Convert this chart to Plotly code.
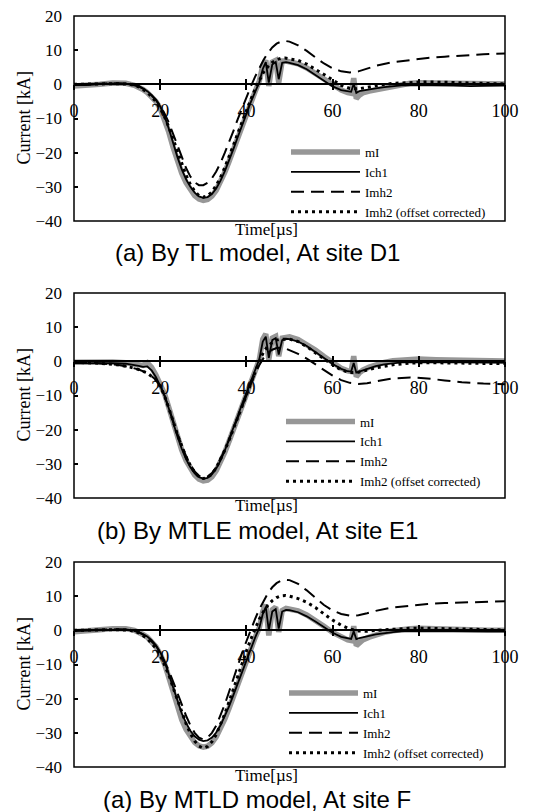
import plotly.graph_objects as go

# ---------------- data ----------------
T_MAIN = [0, 3, 6, 9, 12, 14, 15, 16, 17, 18, 19, 20, 21, 22, 23, 24, 25, 26, 27, 28, 29, 30,
          31, 32, 33, 34, 35, 36, 37, 38, 39, 40, 41, 42, 43, 43.8, 44.5, 45.2, 46, 46.8, 47.5,
          48.3, 49.2, 50, 52, 54, 56, 58, 60, 62, 63.5, 64.3, 64.9, 65.5, 66.2, 67, 68.5, 70,
          72, 74, 76, 78, 80, 84, 88, 92, 96, 100]

T_SMOOTH = [0, 5, 10, 13, 15, 17, 19, 20, 21, 22, 23, 24, 25, 26, 27, 28, 29, 30, 31, 32, 33,
            34, 35, 36, 37, 38, 39, 40, 41, 42, 43, 44, 45, 46, 47, 48, 49, 50, 52, 54, 56, 58,
            60, 62, 64, 66, 68, 70, 74, 78, 82, 86, 90, 95, 100]

# Panel 1: TL model, site D1
p1_mI = [-0.5, -0.4, 0.0, 0.4, 0.3, -0.3, -0.8, -1.5, -2.4, -3.5, -5.0, -7.0, -10.0, -14.0, -18.5,
         -22.5, -26.0, -28.8, -31.0, -32.6, -33.6, -34.0, -33.7, -32.7, -31.0, -28.6, -25.7, -22.5,
         -19.0, -15.4, -11.8, -8.4, -5.2, -2.2, 1.0, 5.5, 7.0, -0.5, 6.5, 7.0, 0.5, 6.8, 6.8, 6.6,
         6.0, 4.8, 3.2, 1.4, -0.3, -1.7, -2.4, -2.6, 1.8, -4.2, -3.2, -2.5, -2.0, -1.6, -1.1, -0.6,
         -0.1, 0.3, 0.5, 0.4, 0.1, -0.1, 0.0, 0.1]
p1_Ich1 = [-0.2, -0.2, 0.1, 0.3, 0.2, -0.2, -0.6, -1.2, -2.0, -3.1, -4.6, -6.5, -9.3, -13.0, -17.3,
           -21.3, -24.9, -27.8, -30.0, -31.7, -32.8, -33.2, -33.0, -32.1, -30.5, -28.2, -25.4, -22.3,
           -18.9, -15.4, -11.9, -8.5, -5.3, -2.3, 0.6, 4.5, 6.5, 0.5, 5.8, 6.5, 1.5, 6.3, 6.5, 6.3,
           5.6, 4.4, 2.8, 1.0, -0.6, -1.7, -2.1, -2.2, 0.2, -2.5, -2.0, -1.8, -1.5, -1.2, -0.8, -0.5,
           -0.3, -0.2, -0.2, -0.3, -0.4, -0.5, -0.4, -0.3]
p1_Imh2 = [0.0, 0.1, 0.3, 0.1, -0.5, -2.0, -4.5, -6.3, -8.5, -11.2, -14.5, -18.0, -21.5, -24.5, -27.0,
           -28.7, -29.5, -29.5, -28.8, -27.5, -25.5, -23.0, -20.0, -17.0, -13.6, -10.2, -6.9, -3.7,
           -0.7, 2.2, 4.8, 7.2, 9.2, 10.8, 11.9, 12.5, 12.7, 12.5, 11.4, 9.8, 7.9, 6.1, 4.7, 3.8, 3.5,
           3.8, 4.6, 5.4, 6.5, 7.2, 7.7, 8.1, 8.5, 8.8, 9.0]
p1_Imh2c = [0.0, 0.1, 0.2, 0.0, -0.7, -2.3, -5.0, -7.0, -9.5, -12.5, -16.0, -19.8, -23.4, -26.6, -29.3,
            -31.3, -32.6, -33.0, -32.6, -31.5, -29.6, -27.2, -24.3, -21.2, -17.8, -14.3, -10.9, -7.6,
            -4.5, -1.5, 1.2, 3.6, 5.2, 6.4, 7.2, 7.6, 7.7, 7.5, 7.0, 5.9, 4.5, 2.9, 1.3, -0.3, -1.2,
            -1.3, -0.9, -0.4, 0.3, 0.6, 0.7, 0.6, 0.4, 0.2, 0.1]

# Panel 2: MTLE model, site E1
p2_mI = [-0.3, -0.2, 0.0, -0.2, -0.4, -0.8, -1.0, -1.2, -0.4, -1.8, -4.0, -6.8, -9.5, -13.5, -18.0,
         -22.3, -26.0, -29.0, -31.5, -33.3, -34.5, -35.0, -34.8, -33.8, -32.0, -29.5, -26.6, -23.3,
         -19.9, -16.4, -12.9, -9.4, -6.0, -2.8, 0.5, 6.5, 8.0, 0.5, 6.8, 7.3, 1.5, 6.8, 7.2, 7.2,
         6.4, 5.0, 3.3, 1.4, -0.4, -2.0, -2.8, -3.0, 1.5, -4.5, -3.4, -2.6, -1.7, -1.0, -0.3, 0.2,
         0.5, 0.6, 0.7, 0.5, 0.4, 0.2, 0.1, 0.1]
p2_Ich1 = [-0.5, -0.5, -0.4, -0.5, -0.7, -1.0, -1.3, -1.6, -1.5, -2.6, -4.6, -7.2, -10.0, -13.8, -18.0,
           -22.0, -25.6, -28.6, -31.0, -32.8, -33.9, -34.3, -34.1, -33.1, -31.4, -29.0, -26.1, -22.9,
           -19.5, -16.0, -12.5, -9.1, -5.8, -2.6, 0.6, 5.8, 7.2, 1.0, 6.2, 6.8, 2.0, 6.2, 6.6, 6.5,
           5.8, 4.5, 2.8, 1.0, -0.8, -2.2, -2.9, -3.0, -0.5, -3.3, -3.0, -2.6, -2.0, -1.4, -0.9, -0.5,
           -0.3, -0.2, -0.2, -0.3, -0.4, -0.4, -0.4, -0.4]
p2_Imh2 = [-0.3, -0.5, -1.0, -1.7, -2.4, -3.4, -5.4, -7.3, -10.0, -13.4, -17.4, -21.3, -24.8, -27.8,
           -30.3, -32.2, -33.5, -34.0, -33.7, -32.7, -31.0, -28.6, -25.9, -22.9, -19.7, -16.4, -13.0,
           -9.6, -6.4, -3.6, -1.1, 1.0, 2.5, 3.4, 3.9, 4.0, 3.8, 3.3, 2.2, 0.8, -0.9, -2.6, -4.2,
           -5.5, -6.3, -6.6, -6.4, -5.9, -5.0, -4.7, -5.0, -5.6, -6.1, -6.5, -6.7]
p2_Imh2c = [-0.3, -0.5, -1.0, -1.7, -2.4, -3.4, -5.4, -7.3, -10.0, -13.5, -17.5, -21.5, -25.0, -28.0,
            -30.5, -32.5, -33.8, -34.3, -34.0, -33.0, -31.2, -28.8, -26.0, -23.0, -19.7, -16.3, -12.8,
            -9.3, -6.0, -3.0, 0.0, 2.8, 4.5, 5.5, 6.2, 6.5, 6.6, 6.5, 5.8, 4.3, 2.5, 0.7, -1.0, -2.5,
            -3.3, -3.2, -2.6, -1.9, -1.0, -0.5, -0.4, -0.5, -0.6, -0.6, -0.6]

# Panel 3: MTLD model, site F
p3_mI = [-0.4, -0.3, 0.2, 0.5, 0.5, 0.0, -0.5, -1.2, -2.0, -3.2, -4.8, -7.0, -9.8, -13.8, -18.3,
         -22.5, -26.2, -29.0, -31.2, -32.8, -33.8, -34.2, -33.9, -32.9, -31.2, -28.8, -25.9, -22.7,
         -19.2, -15.6, -12.0, -8.5, -5.2, -2.2, 0.8, 5.5, 7.5, -1.5, 6.0, 6.8, -0.5, 5.8, 6.4, 6.3,
         5.7, 4.5, 3.0, 1.2, -0.6, -2.0, -2.8, -3.0, 1.2, -4.5, -3.6, -2.8, -2.0, -1.3, -0.6, -0.1,
         0.3, 0.5, 0.6, 0.4, 0.3, 0.1, 0.0, 0.0]
p3_Ich1 = [-0.2, -0.1, 0.2, 0.3, 0.3, -0.1, -0.5, -1.1, -1.8, -2.9, -4.4, -6.4, -9.1, -12.8, -16.9,
           -20.8, -24.3, -27.1, -29.4, -31.0, -32.0, -32.4, -32.2, -31.4, -29.9, -27.8, -25.2, -22.2,
           -18.9, -15.5, -12.0, -8.6, -5.3, -2.2, 0.8, 4.8, 6.8, 0.0, 5.5, 6.2, 0.5, 5.5, 6.0, 5.9,
           5.3, 4.1, 2.6, 0.9, -0.7, -1.9, -2.4, -2.5, -0.3, -2.6, -2.3, -2.0, -1.6, -1.2, -0.8, -0.5,
           -0.3, -0.2, -0.2, -0.3, -0.3, -0.4, -0.3, -0.3]
p3_Imh2 = [0.0, 0.1, 0.3, 0.1, -0.5, -2.0, -4.5, -6.5, -9.0, -11.8, -15.0, -18.5, -22.0, -25.0, -27.8,
           -30.0, -31.4, -31.9, -31.4, -30.0, -27.9, -25.0, -21.6, -17.9, -14.0, -10.2, -6.6, -3.2,
           0.2, 3.3, 6.2, 8.8, 10.9, 12.6, 13.8, 14.5, 14.8, 14.7, 13.6, 11.7, 9.5, 7.4, 5.8, 4.8,
           4.3, 4.4, 5.0, 5.7, 6.7, 7.3, 7.7, 8.0, 8.2, 8.4, 8.5]
p3_Imh2c = [0.0, 0.1, 0.2, 0.0, -0.7, -2.4, -5.2, -7.3, -10.0, -13.0, -16.8, -20.5, -24.0, -27.3,
            -30.2, -32.4, -33.9, -34.5, -34.0, -32.6, -30.5, -27.7, -24.4, -20.8, -17.0, -13.2, -9.6,
            -6.1, -2.7, 0.5, 3.3, 5.6, 7.4, 8.7, 9.6, 10.1, 10.2, 10.0, 9.3, 8.2, 6.7, 4.8, 3.0, 1.5,
            0.4, -0.2, -0.3, 0.0, 0.4, 0.6, 0.6, 0.5, 0.4, 0.2, 0.1]

SERIES_NAMES = ["mI", "Ich1", "Imh2", "Imh2 (offset corrected)"]
X_TICKS = [0, 20, 40, 60, 80, 100]
Y_TICKS = [-40, -30, -20, -10, 0, 10, 20]
X_TITLE = "Time[µs]"
Y_TITLE = "Current [kA]"
CAPTIONS = ["(a) By TL model, At site D1", "(b) By MTLE model, At site E1", "(a) By MTLD model, At site F"]

PANELS = [
    (p1_mI, p1_Ich1, p1_Imh2, p1_Imh2c),
    (p2_mI, p2_Ich1, p2_Imh2, p2_Imh2c),
    (p3_mI, p3_Ich1, p3_Imh2, p3_Imh2c),
]

# ---------------- layout constants (pixels) ----------------
W, H = 538, 812
X_LEFT, X_RIGHT = 74, 505
PANEL_PX = [(16, 221), (293, 498), (562, 767)]
LEGEND_PX = [(286, 137), (281, 406.5), (284, 678)]
SERIF = "Liberation Serif"
SANS = "Liberation Sans"


def fy(px):
    return 1 - px / H


fig = go.Figure()

styles = [
    dict(color="#979797", width=5.5),
    dict(color="black", width=1.8),
    dict(color="black", width=2, dash="13px,7px"),
    dict(color="black", width=3, dash="3px,4px"),
]

layout = dict(
    width=W, height=H,
    margin=dict(l=0, r=0, t=0, b=0),
    paper_bgcolor="white", plot_bgcolor="white",
    template="none",
    showlegend=True,
    font=dict(family=SERIF, size=17, color="black"),
)
shapes = []
annotations = []

for i, (mI, ich1, imh2, imh2c) in enumerate(PANELS):
    k = i + 1
    xa = "x" if k == 1 else f"x{k}"
    ya = "y" if k == 1 else f"y{k}"
    xo = f"x{k + 3}"
    leg = "legend" if k == 1 else f"legend{k}"
    top, bot = PANEL_PX[i]
    y0, y1 = fy(bot), fy(top)
    zero_pos = y0 + (0 - (-40)) / 60 * (y1 - y0)

    data_sets = [(T_MAIN, mI), (T_MAIN, ich1), (T_SMOOTH, imh2), (T_SMOOTH, imh2c)]
    for (tt, vv), name, st in zip(data_sets, SERIES_NAMES, styles):
        fig.add_trace(go.Scatter(x=tt, y=vv, mode="lines", name=name, line=st,
                                 xaxis=xa, yaxis=ya, legend=leg, hoverinfo="skip"))
    # helper trace to materialise the upper-tick overlay axis
    fig.add_trace(go.Scatter(x=[0], y=[None], mode="lines", xaxis=xo, yaxis=ya,
                             showlegend=False, hoverinfo="skip"))

    layout["xaxis" if k == 1 else f"xaxis{k}"] = dict(
        domain=[X_LEFT / W, X_RIGHT / W], range=[0, 100], anchor="free", position=zero_pos,
        tickvals=X_TICKS, ticks="outside", ticklen=5, tickwidth=1.5, tickcolor="black",
        showline=True, linecolor="black", linewidth=1.5, showgrid=False, zeroline=False,
        tickfont=dict(family=SERIF, size=18, color="black"), ticklabelstandoff=5,
    )
    layout[f"xaxis{k + 3}"] = dict(
        overlaying=xa, range=[0, 100], anchor="free", position=zero_pos,
        tickvals=X_TICKS, ticks="inside", ticklen=5, tickwidth=1.5, tickcolor="black",
        showticklabels=False, showline=False, showgrid=False, zeroline=False,
    )
    layout["yaxis" if k == 1 else f"yaxis{k}"] = dict(
        domain=[y0, y1], range=[-40, 20], anchor=xa, tickvals=Y_TICKS,
        ticks="inside", ticklen=4, tickwidth=1.5, tickcolor="black",
        showline=False, showgrid=False, zeroline=False,
        tickfont=dict(family=SERIF, size=17, color="black"), ticklabelstandoff=11,
    )
    shapes.append(dict(type="rect", xref=f"{xa} domain", yref=f"{ya} domain",
                       x0=0, x1=1, y0=0, y1=1, line=dict(color="black", width=1.5)))
    lx, ly = LEGEND_PX[i]
    layout[leg] = dict(
        x=lx / W, y=fy(ly), xanchor="left", yanchor="top", bgcolor="rgba(0,0,0,0)",
        borderwidth=0, itemwidth=69, tracegroupgap=0,
        font=dict(family=SERIF, size=13, color="black"),
    )
    annotations.append(dict(text=Y_TITLE, xref="paper", yref=f"{ya} domain", x=23 / W, y=0.5,
                            textangle=-90, showarrow=False, xanchor="center", yanchor="middle",
                            font=dict(family=SERIF, size=18, color="black")))
    annotations.append(dict(text=X_TITLE, xref="paper", yref="paper", x=266 / W, y=fy(bot + 8),
                            showarrow=False, xanchor="center", yanchor="middle",
                            font=dict(family=SERIF, size=17, color="black")))
    annotations.append(dict(text=CAPTIONS[i], xref="paper", yref="paper", x=257 / W,
                            y=fy(bot + 32), showarrow=False, xanchor="center", yanchor="middle",
                            font=dict(family=SANS, size=24, color="black")))

layout["shapes"] = shapes
layout["annotations"] = annotations
fig.update_layout(**layout)
fig.write_html("out.html")
